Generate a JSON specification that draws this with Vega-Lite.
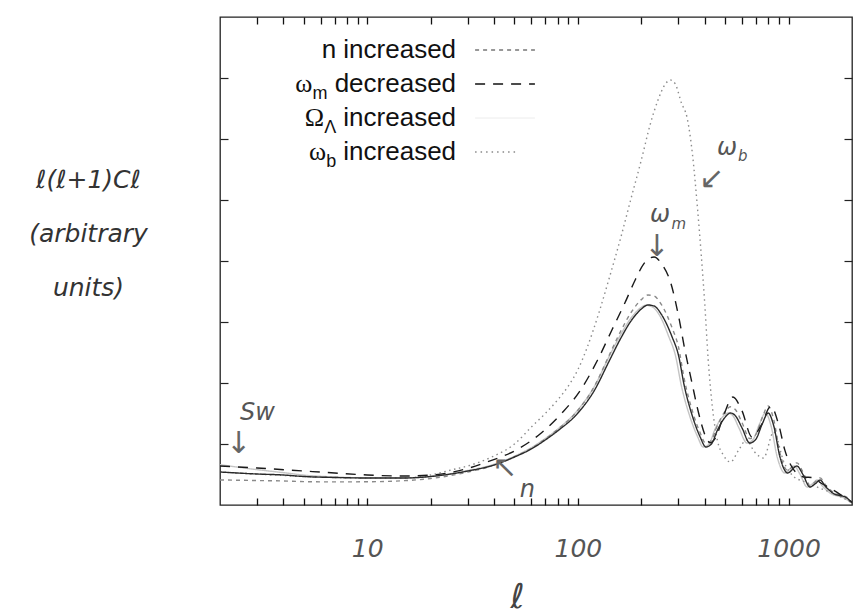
{
  "$schema": "https://vega.github.io/schema/vega-lite/v6.json",
  "width": 632,
  "height": 488,
  "autosize": {"type": "none"},
  "padding": {"left": 220, "top": 17, "right": 4, "bottom": 110},
  "background": "white",
  "config": {"view": {"stroke": "#222", "strokeWidth": 1.3}, "font": "Liberation Sans", "axis": {"zindex": 1}},
  "datasets": {
    "curves": [
      {"series": "ΩΛ increased", "l": 2, "v": 0.66}, {"series": "ΩΛ increased", "l": 3, "v": 0.58}, {"series": "ΩΛ increased", "l": 4, "v": 0.53}, {"series": "ΩΛ increased", "l": 5, "v": 0.49}, {"series": "ΩΛ increased", "l": 7, "v": 0.46}, {"series": "ΩΛ increased", "l": 10, "v": 0.445}, {"series": "ΩΛ increased", "l": 15, "v": 0.445}, {"series": "ΩΛ increased", "l": 20, "v": 0.47}, {"series": "ΩΛ increased", "l": 30, "v": 0.565}, {"series": "ΩΛ increased", "l": 40, "v": 0.67}, {"series": "ΩΛ increased", "l": 50, "v": 0.8}, {"series": "ΩΛ increased", "l": 60, "v": 0.94}, {"series": "ΩΛ increased", "l": 70, "v": 1.09}, {"series": "ΩΛ increased", "l": 80, "v": 1.24}, {"series": "ΩΛ increased", "l": 100, "v": 1.56}, {"series": "ΩΛ increased", "l": 120, "v": 1.95}, {"series": "ΩΛ increased", "l": 140, "v": 2.42}, {"series": "ΩΛ increased", "l": 160, "v": 2.8}, {"series": "ΩΛ increased", "l": 180, "v": 3.08}, {"series": "ΩΛ increased", "l": 200, "v": 3.24}, {"series": "ΩΛ increased", "l": 210, "v": 3.275}, {"series": "ΩΛ increased", "l": 225, "v": 3.25}, {"series": "ΩΛ increased", "l": 245, "v": 3.1}, {"series": "ΩΛ increased", "l": 270, "v": 2.76}, {"series": "ΩΛ increased", "l": 290, "v": 2.46}, {"series": "ΩΛ increased", "l": 310, "v": 1.95}, {"series": "ΩΛ increased", "l": 340, "v": 1.45}, {"series": "ΩΛ increased", "l": 370, "v": 1.12}, {"series": "ΩΛ increased", "l": 393, "v": 0.951}, {"series": "ΩΛ increased", "l": 420, "v": 1.0}, {"series": "ΩΛ increased", "l": 446, "v": 1.23}, {"series": "ΩΛ increased", "l": 485, "v": 1.44}, {"series": "ΩΛ increased", "l": 515, "v": 1.508}, {"series": "ΩΛ increased", "l": 545, "v": 1.46}, {"series": "ΩΛ increased", "l": 580, "v": 1.27}, {"series": "ΩΛ increased", "l": 635, "v": 1.016}, {"series": "ΩΛ increased", "l": 680, "v": 1.08}, {"series": "ΩΛ increased", "l": 728, "v": 1.33}, {"series": "ΩΛ increased", "l": 776, "v": 1.508}, {"series": "ΩΛ increased", "l": 825, "v": 1.3}, {"series": "ΩΛ increased", "l": 883, "v": 0.787}, {"series": "ΩΛ increased", "l": 960, "v": 0.525}, {"series": "ΩΛ increased", "l": 1062, "v": 0.639}, {"series": "ΩΛ increased", "l": 1135, "v": 0.5}, {"series": "ΩΛ increased", "l": 1224, "v": 0.295}, {"series": "ΩΛ increased", "l": 1300, "v": 0.35}, {"series": "ΩΛ increased", "l": 1368, "v": 0.41}, {"series": "ΩΛ increased", "l": 1455, "v": 0.3}, {"series": "ΩΛ increased", "l": 1571, "v": 0.197}, {"series": "ΩΛ increased", "l": 1833, "v": 0.115}, {"series": "ΩΛ increased", "l": 2000, "v": 0.033},

      {"series": "ωb increased", "l": 2, "v": 0.541}, {"series": "ωb increased", "l": 3, "v": 0.508}, {"series": "ωb increased", "l": 5, "v": 0.467}, {"series": "ωb increased", "l": 10, "v": 0.443}, {"series": "ωb increased", "l": 15, "v": 0.443}, {"series": "ωb increased", "l": 20, "v": 0.492}, {"series": "ωb increased", "l": 25, "v": 0.574}, {"series": "ωb increased", "l": 30, "v": 0.64}, {"series": "ωb increased", "l": 39, "v": 0.787}, {"series": "ωb increased", "l": 50, "v": 1.0}, {"series": "ωb increased", "l": 61, "v": 1.3}, {"series": "ωb increased", "l": 70, "v": 1.5}, {"series": "ωb increased", "l": 80, "v": 1.72}, {"series": "ωb increased", "l": 90, "v": 1.95}, {"series": "ωb increased", "l": 100, "v": 2.22}, {"series": "ωb increased", "l": 110, "v": 2.56}, {"series": "ωb increased", "l": 127, "v": 3.197}, {"series": "ωb increased", "l": 140, "v": 3.689}, {"series": "ωb increased", "l": 160, "v": 4.393}, {"series": "ωb increased", "l": 180, "v": 5.066}, {"series": "ωb increased", "l": 200, "v": 5.656}, {"series": "ωb increased", "l": 220, "v": 6.23}, {"series": "ωb increased", "l": 240, "v": 6.639}, {"series": "ωb increased", "l": 260, "v": 6.902}, {"series": "ωb increased", "l": 275, "v": 6.967}, {"series": "ωb increased", "l": 290, "v": 6.902}, {"series": "ωb increased", "l": 310, "v": 6.59}, {"series": "ωb increased", "l": 330, "v": 6.344}, {"series": "ωb increased", "l": 350, "v": 5.74}, {"series": "ωb increased", "l": 370, "v": 4.84}, {"series": "ωb increased", "l": 385, "v": 4.1}, {"series": "ωb increased", "l": 400, "v": 3.3}, {"series": "ωb increased", "l": 415, "v": 2.4}, {"series": "ωb increased", "l": 435, "v": 1.6}, {"series": "ωb increased", "l": 460, "v": 1.05}, {"series": "ωb increased", "l": 490, "v": 0.82}, {"series": "ωb increased", "l": 530, "v": 0.705}, {"series": "ωb increased", "l": 580, "v": 0.902}, {"series": "ωb increased", "l": 630, "v": 1.066}, {"series": "ωb increased", "l": 690, "v": 0.869}, {"series": "ωb increased", "l": 760, "v": 0.77}, {"series": "ωb increased", "l": 850, "v": 1.197}, {"series": "ωb increased", "l": 950, "v": 0.705}, {"series": "ωb increased", "l": 1050, "v": 0.475}, {"series": "ωb increased", "l": 1200, "v": 0.377}, {"series": "ωb increased", "l": 1400, "v": 0.279}, {"series": "ωb increased", "l": 1700, "v": 0.164}, {"series": "ωb increased", "l": 2000, "v": 0.033},

      {"series": "n increased", "l": 2, "v": 0.411}, {"series": "n increased", "l": 3, "v": 0.401}, {"series": "n increased", "l": 4, "v": 0.394}, {"series": "n increased", "l": 5, "v": 0.383}, {"series": "n increased", "l": 7, "v": 0.379}, {"series": "n increased", "l": 10, "v": 0.381}, {"series": "n increased", "l": 15, "v": 0.399}, {"series": "n increased", "l": 20, "v": 0.434}, {"series": "n increased", "l": 30, "v": 0.54}, {"series": "n increased", "l": 40, "v": 0.653}, {"series": "n increased", "l": 50, "v": 0.791}, {"series": "n increased", "l": 60, "v": 0.927}, {"series": "n increased", "l": 70, "v": 1.082}, {"series": "n increased", "l": 80, "v": 1.237}, {"series": "n increased", "l": 100, "v": 1.553}, {"series": "n increased", "l": 120, "v": 1.951}, {"series": "n increased", "l": 140, "v": 2.438}, {"series": "n increased", "l": 160, "v": 2.856}, {"series": "n increased", "l": 180, "v": 3.172}, {"series": "n increased", "l": 200, "v": 3.367}, {"series": "n increased", "l": 215, "v": 3.443}, {"series": "n increased", "l": 230, "v": 3.425}, {"series": "n increased", "l": 250, "v": 3.277}, {"series": "n increased", "l": 280, "v": 2.903}, {"series": "n increased", "l": 300, "v": 2.594}, {"series": "n increased", "l": 320, "v": 2.059}, {"series": "n increased", "l": 350, "v": 1.534}, {"series": "n increased", "l": 380, "v": 1.187}, {"series": "n increased", "l": 405, "v": 1.01}, {"series": "n increased", "l": 430, "v": 1.062}, {"series": "n increased", "l": 460, "v": 1.308}, {"series": "n increased", "l": 500, "v": 1.535}, {"series": "n increased", "l": 530, "v": 1.61}, {"series": "n increased", "l": 560, "v": 1.561}, {"series": "n increased", "l": 600, "v": 1.358}, {"series": "n increased", "l": 655, "v": 1.089}, {"series": "n increased", "l": 700, "v": 1.159}, {"series": "n increased", "l": 750, "v": 1.43}, {"series": "n increased", "l": 800, "v": 1.623}, {"series": "n increased", "l": 850, "v": 1.4}, {"series": "n increased", "l": 910, "v": 0.848}, {"series": "n increased", "l": 990, "v": 0.567}, {"series": "n increased", "l": 1095, "v": 0.691}, {"series": "n increased", "l": 1170, "v": 0.541}, {"series": "n increased", "l": 1262, "v": 0.32}, {"series": "n increased", "l": 1340, "v": 0.38}, {"series": "n increased", "l": 1410, "v": 0.445}, {"series": "n increased", "l": 1500, "v": 0.326}, {"series": "n increased", "l": 1620, "v": 0.214}, {"series": "n increased", "l": 1890, "v": 0.125}, {"series": "n increased", "l": 2000, "v": 0.036},

      {"series": "ωm decreased", "l": 2, "v": 0.639}, {"series": "ωm decreased", "l": 3, "v": 0.607}, {"series": "ωm decreased", "l": 5, "v": 0.557}, {"series": "ωm decreased", "l": 7, "v": 0.525}, {"series": "ωm decreased", "l": 10, "v": 0.492}, {"series": "ωm decreased", "l": 15, "v": 0.475}, {"series": "ωm decreased", "l": 20, "v": 0.49}, {"series": "ωm decreased", "l": 30, "v": 0.6}, {"series": "ωm decreased", "l": 37, "v": 0.705}, {"series": "ωm decreased", "l": 51, "v": 0.902}, {"series": "ωm decreased", "l": 67, "v": 1.18}, {"series": "ωm decreased", "l": 84, "v": 1.508}, {"series": "ωm decreased", "l": 103, "v": 1.885}, {"series": "ωm decreased", "l": 124, "v": 2.377}, {"series": "ωm decreased", "l": 145, "v": 2.869}, {"series": "ωm decreased", "l": 167, "v": 3.311}, {"series": "ωm decreased", "l": 187, "v": 3.689}, {"series": "ωm decreased", "l": 205, "v": 3.95}, {"series": "ωm decreased", "l": 230, "v": 4.066}, {"series": "ωm decreased", "l": 250, "v": 3.95}, {"series": "ωm decreased", "l": 276, "v": 3.639}, {"series": "ωm decreased", "l": 301, "v": 3.082}, {"series": "ωm decreased", "l": 322, "v": 2.541}, {"series": "ωm decreased", "l": 348, "v": 2.0}, {"series": "ωm decreased", "l": 371, "v": 1.557}, {"series": "ωm decreased", "l": 405, "v": 1.115}, {"series": "ωm decreased", "l": 425, "v": 1.02}, {"series": "ωm decreased", "l": 450, "v": 1.1}, {"series": "ωm decreased", "l": 490, "v": 1.45}, {"series": "ωm decreased", "l": 544, "v": 1.77}, {"series": "ωm decreased", "l": 600, "v": 1.55}, {"series": "ωm decreased", "l": 670, "v": 1.115}, {"series": "ωm decreased", "l": 740, "v": 1.3}, {"series": "ωm decreased", "l": 824, "v": 1.62}, {"series": "ωm decreased", "l": 900, "v": 1.3}, {"series": "ωm decreased", "l": 960, "v": 0.9}, {"series": "ωm decreased", "l": 1037, "v": 0.623}, {"series": "ωm decreased", "l": 1183, "v": 0.459}, {"series": "ωm decreased", "l": 1300, "v": 0.45}, {"series": "ωm decreased", "l": 1423, "v": 0.361}, {"series": "ωm decreased", "l": 1600, "v": 0.26}, {"series": "ωm decreased", "l": 1800, "v": 0.15}, {"series": "ωm decreased", "l": 2000, "v": 0.049},

      {"series": "baseline", "l": 2, "v": 0.541}, {"series": "baseline", "l": 3, "v": 0.508}, {"series": "baseline", "l": 4, "v": 0.492}, {"series": "baseline", "l": 5, "v": 0.467}, {"series": "baseline", "l": 7, "v": 0.451}, {"series": "baseline", "l": 10, "v": 0.443}, {"series": "baseline", "l": 15, "v": 0.443}, {"series": "baseline", "l": 20, "v": 0.467}, {"series": "baseline", "l": 30, "v": 0.557}, {"series": "baseline", "l": 40, "v": 0.656}, {"series": "baseline", "l": 50, "v": 0.787}, {"series": "baseline", "l": 60, "v": 0.918}, {"series": "baseline", "l": 70, "v": 1.066}, {"series": "baseline", "l": 80, "v": 1.213}, {"series": "baseline", "l": 100, "v": 1.508}, {"series": "baseline", "l": 120, "v": 1.885}, {"series": "baseline", "l": 140, "v": 2.344}, {"series": "baseline", "l": 160, "v": 2.738}, {"series": "baseline", "l": 180, "v": 3.033}, {"series": "baseline", "l": 200, "v": 3.213}, {"series": "baseline", "l": 215, "v": 3.279}, {"series": "baseline", "l": 230, "v": 3.262}, {"series": "baseline", "l": 250, "v": 3.115}, {"series": "baseline", "l": 280, "v": 2.754}, {"series": "baseline", "l": 300, "v": 2.459}, {"series": "baseline", "l": 320, "v": 1.95}, {"series": "baseline", "l": 350, "v": 1.45}, {"series": "baseline", "l": 380, "v": 1.12}, {"series": "baseline", "l": 405, "v": 0.951}, {"series": "baseline", "l": 430, "v": 1.0}, {"series": "baseline", "l": 460, "v": 1.23}, {"series": "baseline", "l": 500, "v": 1.44}, {"series": "baseline", "l": 530, "v": 1.508}, {"series": "baseline", "l": 560, "v": 1.46}, {"series": "baseline", "l": 600, "v": 1.27}, {"series": "baseline", "l": 655, "v": 1.016}, {"series": "baseline", "l": 700, "v": 1.08}, {"series": "baseline", "l": 750, "v": 1.33}, {"series": "baseline", "l": 800, "v": 1.508}, {"series": "baseline", "l": 850, "v": 1.3}, {"series": "baseline", "l": 910, "v": 0.787}, {"series": "baseline", "l": 990, "v": 0.525}, {"series": "baseline", "l": 1095, "v": 0.639}, {"series": "baseline", "l": 1170, "v": 0.5}, {"series": "baseline", "l": 1262, "v": 0.295}, {"series": "baseline", "l": 1340, "v": 0.35}, {"series": "baseline", "l": 1410, "v": 0.41}, {"series": "baseline", "l": 1500, "v": 0.3}, {"series": "baseline", "l": 1620, "v": 0.197}, {"series": "baseline", "l": 1890, "v": 0.115}, {"series": "baseline", "l": 2000, "v": 0.033}
    ]
  },
  "resolve": {"axis": {"x": "independent", "y": "independent"}},
  "layer": [
    {
      "data": {"name": "curves"},
      "mark": {"type": "line", "interpolate": "monotone", "strokeWidth": 1.4, "clip": true},
      "encoding": {
        "x": {
          "field": "l", "type": "quantitative",
          "scale": {"type": "log", "domain": [2, 2000], "nice": false},
          "axis": {
            "orient": "bottom", "grid": false, "domain": false, "offset": 0, "ticks": true,
            "values": [3, 4, 5, 6, 7, 8, 9, 10, 20, 30, 40, 50, 60, 70, 80, 90, 100, 200, 300, 400, 500, 600, 700, 800, 900, 1000],
            "tickColor": "#111", "tickWidth": 1.3, "tickSize": -7, "tickOpacity": 1,
            "labelExpr": "indexof([10,100,1000], datum.value) >= 0 ? format(datum.value, 'd') : ''",
            "labelPadding": 38, "labelFontSize": 25, "labelColor": "#555", "labelFont": "DejaVu Sans", "labelFontStyle": "italic",
            "labelOverlap": false, "labelFlush": false,
            "title": "ℓ", "titleFont": "DejaVu Sans", "titleFontSize": 34, "titleFontWeight": "normal", "titleFontStyle": "italic", "titleColor": "#444",
            "titleX": 297, "titleY": 102, "titleAnchor": "start", "titleAlign": "center", "titleBaseline": "alphabetic"
          }
        },
        "y": {
          "field": "v", "type": "quantitative",
          "scale": {"domain": [0, 8], "nice": false},
          "axis": {
            "orient": "left", "grid": false, "domain": false, "labels": false, "offset": 0,
            "values": [1, 2, 3, 4, 5, 6, 7], "tickSize": -8, "tickColor": "#222", "tickWidth": 1.2,
            "title": ["ℓ(ℓ+1)Cℓ", "(arbitrary", "units)"],
            "titleAngle": 0, "titleAlign": "center", "titleBaseline": "top",
            "titleX": -132, "titleY": 150, "titleLineHeight": 54,
            "titleFont": "DejaVu Sans", "titleFontSize": 25, "titleFontWeight": "normal", "titleFontStyle": "italic", "titleColor": "#333"
          }
        },
        "color": {
          "field": "series", "type": "nominal", "legend": null,
          "scale": {"domain": ["ΩΛ increased", "ωb increased", "n increased", "ωm decreased", "baseline"], "range": ["#c4c4c4", "#8c8c8c", "#8a8a8a", "#1a1a1a", "#2a2a2a"]}
        },
        "strokeDash": {
          "field": "series", "type": "nominal", "legend": null,
          "scale": {"domain": ["ΩΛ increased", "ωb increased", "n increased", "ωm decreased", "baseline"], "range": [[1, 0], [1.5, 3.5], [4, 4], [10, 8], [1, 0]]}
        },
        "order": {"field": "l", "type": "quantitative"}
      }
    },
    {
      "data": {"name": "curves"},
      "mark": {"type": "line", "opacity": 0},
      "encoding": {
        "x": {
          "field": "l", "type": "quantitative",
          "axis": {
            "orient": "top", "grid": false, "domain": false, "labels": false, "title": null, "offset": 0, "ticks": true,
            "values": [3, 4, 5, 6, 7, 8, 9, 10, 20, 30, 40, 50, 60, 70, 80, 90, 100, 200, 300, 400, 500, 600, 700, 800, 900, 1000],
            "tickColor": "#111", "tickWidth": 1.3, "tickSize": -7
          }
        },
        "y": {
          "field": "v", "type": "quantitative",
          "axis": {"orient": "right", "grid": false, "domain": false, "labels": false, "title": null, "offset": 0, "values": [1, 2, 3, 4, 5, 6, 7], "tickSize": -8, "tickColor": "#222", "tickWidth": 1.2}
        }
      }
    },
    {
      "data": {"values": [{"word": "n increased"}]},
      "layer": [
        {"mark": {"type": "text", "align": "right", "baseline": "alphabetic", "fontSize": 26, "font": "Liberation Sans", "color": "#111"},
         "encoding": {"x": {"datum": 26.4, "type": "quantitative", "axis": null}, "y": {"datum": 7.328, "type": "quantitative", "axis": null}, "text": {"field": "word"}}},
        {"mark": {"type": "rule", "color": "#777", "strokeDash": [4, 4], "strokeWidth": 1.3},
         "encoding": {"x": {"datum": 32.5, "type": "quantitative", "axis": null}, "x2": {"datum": 62.5}, "y": {"datum": 7.459, "type": "quantitative", "axis": null}}}
      ]
    },
    {
      "data": {"values": [{"greek": "ω", "sub": "m", "word": " decreased"}]},
      "layer": [
        {"mark": {"type": "text", "align": "right", "baseline": "alphabetic", "fontSize": 26, "font": "Liberation Sans", "color": "#111"},
         "encoding": {"x": {"datum": 26.4, "type": "quantitative", "axis": null}, "y": {"datum": 6.77, "type": "quantitative", "axis": null}, "text": {"field": "word"}}},
        {"mark": {"type": "text", "align": "right", "baseline": "alphabetic", "fontSize": 18, "font": "Liberation Sans", "color": "#111", "dx": -128.6, "dy": 7},
         "encoding": {"x": {"datum": 26.4, "type": "quantitative", "axis": null}, "y": {"datum": 6.77, "type": "quantitative", "axis": null}, "text": {"field": "sub"}}},
        {"mark": {"type": "text", "align": "right", "baseline": "alphabetic", "fontSize": 26, "font": "Liberation Serif", "color": "#111", "dx": -143.6},
         "encoding": {"x": {"datum": 26.4, "type": "quantitative", "axis": null}, "y": {"datum": 6.77, "type": "quantitative", "axis": null}, "text": {"field": "greek"}}},
        {"mark": {"type": "rule", "color": "#111", "strokeDash": [10, 8], "strokeWidth": 1.4},
         "encoding": {"x": {"datum": 32.5, "type": "quantitative", "axis": null}, "x2": {"datum": 62.5}, "y": {"datum": 6.902, "type": "quantitative", "axis": null}}}
      ]
    },
    {
      "data": {"values": [{"greek": "Ω", "sub": "Λ", "word": " increased"}]},
      "layer": [
        {"mark": {"type": "text", "align": "right", "baseline": "alphabetic", "fontSize": 26, "font": "Liberation Sans", "color": "#111"},
         "encoding": {"x": {"datum": 26.4, "type": "quantitative", "axis": null}, "y": {"datum": 6.213, "type": "quantitative", "axis": null}, "text": {"field": "word"}}},
        {"mark": {"type": "text", "align": "right", "baseline": "alphabetic", "fontSize": 18, "font": "Liberation Sans", "color": "#111", "dx": -119.9, "dy": 7},
         "encoding": {"x": {"datum": 26.4, "type": "quantitative", "axis": null}, "y": {"datum": 6.213, "type": "quantitative", "axis": null}, "text": {"field": "sub"}}},
        {"mark": {"type": "text", "align": "right", "baseline": "alphabetic", "fontSize": 26, "font": "Liberation Serif", "color": "#111", "dx": -131.9},
         "encoding": {"x": {"datum": 26.4, "type": "quantitative", "axis": null}, "y": {"datum": 6.213, "type": "quantitative", "axis": null}, "text": {"field": "greek"}}},
        {"mark": {"type": "rule", "color": "#ececec", "strokeWidth": 1},
         "encoding": {"x": {"datum": 32.5, "type": "quantitative", "axis": null}, "x2": {"datum": 62.5}, "y": {"datum": 6.344, "type": "quantitative", "axis": null}}}
      ]
    },
    {
      "data": {"values": [{"greek": "ω", "sub": "b", "word": " increased"}]},
      "layer": [
        {"mark": {"type": "text", "align": "right", "baseline": "alphabetic", "fontSize": 26, "font": "Liberation Sans", "color": "#111"},
         "encoding": {"x": {"datum": 26.4, "type": "quantitative", "axis": null}, "y": {"datum": 5.656, "type": "quantitative", "axis": null}, "text": {"field": "word"}}},
        {"mark": {"type": "text", "align": "right", "baseline": "alphabetic", "fontSize": 18, "font": "Liberation Sans", "color": "#111", "dx": -119.9, "dy": 7},
         "encoding": {"x": {"datum": 26.4, "type": "quantitative", "axis": null}, "y": {"datum": 5.656, "type": "quantitative", "axis": null}, "text": {"field": "sub"}}},
        {"mark": {"type": "text", "align": "right", "baseline": "alphabetic", "fontSize": 26, "font": "Liberation Serif", "color": "#111", "dx": -129.9},
         "encoding": {"x": {"datum": 26.4, "type": "quantitative", "axis": null}, "y": {"datum": 5.656, "type": "quantitative", "axis": null}, "text": {"field": "greek"}}},
        {"mark": {"type": "rule", "color": "#888", "strokeDash": [1.5, 4], "strokeWidth": 1.4},
         "encoding": {"x": {"datum": 32.5, "type": "quantitative", "axis": null}, "x2": {"datum": 52}, "y": {"datum": 5.787, "type": "quantitative", "axis": null}}}
      ]
    },
    {
      "data": {"values": [
        {"note": "Sw", "l": 2.49, "v": 1.393, "size": "big"},
        {"note": "n", "l": 53, "v": 0.131, "size": "big"},
        {"note": "ω", "l": 219.7, "v": 4.64, "size": "big"},
        {"note": "ω", "l": 457, "v": 5.738, "size": "big"},
        {"note": "m", "l": 278, "v": 4.52, "size": "small"},
        {"note": "b", "l": 575, "v": 5.64, "size": "small"}
      ]},
      "mark": {"type": "text", "align": "left", "baseline": "alphabetic", "font": "DejaVu Sans", "fontStyle": "italic", "color": "#555"},
      "encoding": {
        "x": {"field": "l", "type": "quantitative", "axis": null},
        "y": {"field": "v", "type": "quantitative", "axis": null},
        "text": {"field": "note"},
        "size": {"field": "size", "type": "nominal", "legend": null, "scale": {"domain": ["big", "small"], "range": [24, 15]}}
      }
    },
    {
      "data": {"values": [
        {"arrow": "↓", "l": 2.45, "v": 0.76},
        {"arrow": "↖", "l": 45, "v": 0.36},
        {"arrow": "↓", "l": 237, "v": 3.99},
        {"arrow": "↙", "l": 432, "v": 5.1}
      ]},
      "mark": {"type": "text", "align": "center", "baseline": "bottom", "font": "DejaVu Sans", "fontSize": 30, "color": "#666"},
      "encoding": {
        "x": {"field": "l", "type": "quantitative", "axis": null},
        "y": {"field": "v", "type": "quantitative", "axis": null},
        "text": {"field": "arrow"}
      }
    }
  ]
}
